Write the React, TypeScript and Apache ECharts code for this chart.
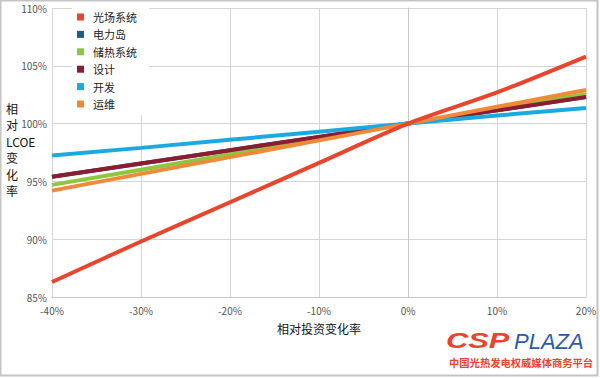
import React, { useEffect, useRef } from "react";
import * as echarts from "echarts";

const xTicks = [-40, -30, -20, -10, 0, 10, 20];
const seriesNames = ["光场系统", "电力岛", "储热系统", "设计", "开发", "运维"];
const seriesColors = ["#E8452C", "#1B5C8C", "#8DC63F", "#8E1B2F", "#1BA9E1", "#F08A3A"];
const fieldSystem = [86.3, 89.8, 93.2, 96.6, 100, 102.7, 105.8];
const powerIsland = [95.4, 96.55, 97.7, 98.85, 100, 101.15, 102.3];
const storage = [94.7, 96.0, 97.35, 98.7, 100, 101.3, 102.55];
const design = [95.4, 96.55, 97.7, 98.85, 100, 101.15, 102.3];
const development = [97.25, 97.9, 98.6, 99.3, 100, 100.7, 101.35];
const operation = [94.2, 95.65, 97.1, 98.55, 100, 101.45, 102.9];
const seriesValues = [fieldSystem, powerIsland, storage, design, development, operation];

const FONT = "'Noto Sans CJK SC', 'Noto Sans', sans-serif";

export default function App() {
  const ref = useRef<HTMLDivElement>(null);
  useEffect(() => {
    document.body.style.margin = "0";
    if (!ref.current) return;
    const chart = echarts.init(ref.current, null, { renderer: "svg" });
    chart.setOption({
      animation: false,
      backgroundColor: "#ffffff",
      grid: { left: 52, right: 14, top: 8, bottom: 81, containLabel: false },
      legend: {
        orient: "vertical",
        left: 72,
        top: 6,
        padding: [5, 12, 5, 5],
        backgroundColor: "#ffffff",
        icon: "rect",
        itemWidth: 7,
        itemHeight: 7,
        itemGap: 5.4,
        data: seriesNames,
        textStyle: { fontFamily: FONT, fontSize: 11, color: "#222", lineHeight: 12, padding: [0, 0, 0, 4] },
      },
      xAxis: {
        type: "value",
        min: -40,
        max: 20,
        interval: 10,
        name: "相对投资变化率",
        nameLocation: "middle",
        nameGap: 25,
        nameTextStyle: { fontFamily: FONT, fontSize: 12, color: "#111" },
        axisLine: { show: true, lineStyle: { color: "#c8c8c8", width: 1 } },
        axisTick: { show: false },
        axisLabel: {
          margin: 8,
          fontFamily: FONT,
          fontSize: 10,
          color: "#555",
          formatter: (v: number) => `${v}%`,
        },
        splitLine: { show: true, lineStyle: { color: "#d4d4d4", width: 1 } },
      },
      yAxis: {
        type: "value",
        min: 85,
        max: 110,
        interval: 5,
        axisLine: { show: true, lineStyle: { color: "#c8c8c8", width: 1 } },
        axisTick: { show: false },
        axisLabel: {
          margin: 5,
          fontFamily: FONT,
          fontSize: 10,
          color: "#555",
          formatter: (v: number) => `${v}%`,
        },
        splitLine: { show: true, lineStyle: { color: "#d4d4d4", width: 1 } },
      },
      series: seriesNames.map((name, i) => ({
        name,
        type: "line",
        z: i === 0 ? 4 : 2,
        smooth: i === 0 ? 0.3 : false,
        showSymbol: false,
        symbol: "none",
        color: seriesColors[i],
        lineStyle: { width: 4, color: seriesColors[i] },
        data: xTicks.map((x, j) => [x, seriesValues[i][j]]),
      })),
      graphic: [
        {
          type: "rect",
          shape: { x: 0.5, y: 0.5, width: 597, height: 375 },
          style: { fill: "none", stroke: "#c4c4c4", lineWidth: 2 },
          silent: true,
        },
        {
          type: "text",
          left: 6,
          top: 100,
          style: {
            text: "相\n对\nLCOE\n变\n化\n率",
            fontFamily: FONT,
            fontSize: 12,
            lineHeight: 16.5,
            fill: "#111",
          },
        },
        {
          type: "text",
          x: 446,
          y: 330,
          scaleX: 1.4,
          style: {
            text: "CSP",
            fontFamily: "'Liberation Sans', sans-serif",
            fontSize: 22,
            fontWeight: "bold",
            fontStyle: "italic",
            fill: "#E8452C",
          },
        },
        {
          type: "text",
          x: 514,
          y: 330,
          style: {
            text: "PLAZA",
            fontFamily: "'Liberation Sans', sans-serif",
            fontSize: 22,
            fontStyle: "italic",
            fill: "#2B5BA8",
          },
        },
        {
          type: "text",
          x: 449,
          y: 357,
          style: {
            text: "中国光热发电权威媒体商务平台",
            fontFamily: FONT,
            fontSize: 10.3,
            fontWeight: "bold",
            fill: "#E8452C",
          },
        },
      ],
    });
    return () => chart.dispose();
  }, []);
  return <div ref={ref} style={{ width: 600, height: 378 }} />;
}
